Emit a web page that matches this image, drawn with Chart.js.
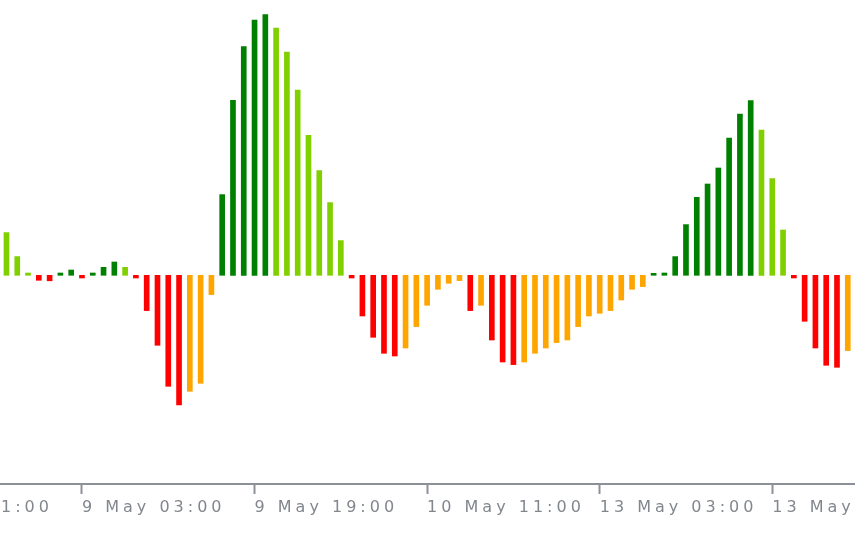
<!DOCTYPE html>
<html>
<head>
<meta charset="utf-8">
<script src="https://cdn.jsdelivr.net/npm/chart.js@4/dist/chart.umd.min.js"></script>
<style>
  html, body { margin: 0; padding: 0; background: #ffffff; }
  #wrap { width: 855px; height: 534px; }
</style>
</head>
<body>
<div id="wrap"><canvas id="aoChart" width="855" height="534"></canvas></div>
<script>
// oscillator values, one per hourly bar (in points)
const aoPoints = [
  42.7, 18.7, 2.3, -5.0, -5.5, 2.3, 5.3, -2.7, 2.3, 8.0,
  13.3, 8.0, -2.7, -35.3, -70.0, -111.0, -129.7, -116.0, -108.0, -19.3,
  80.7, 175.0, 228.7, 255.3, 260.7, 247.3, 223.3, 185.3, 140.0, 104.7,
  72.7, 34.7, -2.7, -40.7, -62.0, -78.0, -80.7, -72.7, -51.3, -30.0,
  -14.0, -8.0, -5.3, -35.3, -30.0, -64.7, -86.7, -89.3, -86.7, -78.0,
  -72.7, -67.3, -64.7, -51.3, -40.7, -38.0, -35.3, -24.7, -14.0, -11.3,
  2.0, 2.3, 18.7, 50.7, 78.0, 91.3, 107.3, 137.3, 161.3, 174.7,
  145.3, 96.7, 45.3, -2.7, -46.0, -72.7, -90.0, -92.0, -75.3
];

// time axis labels and the bar they sit on (16 bars apart)
const tickBars = [-9, 7, 23, 39, 55, 71];
const tickLabels = ["8 May 11:00", "9 May 03:00", "9 May 19:00", "10 May 11:00", "13 May 03:00", "13 May 19:00"];

const axisGray = "#8c9197";

function barColor(ctx) {
    const i = ctx.dataIndex;
    const v = aoPoints[i];
    const prev = i > 0 ? aoPoints[i - 1] : Infinity;
    const rising = v > prev;
    if (v >= 0) return rising ? "#008000" : "#80d000";
    return rising ? "#ffa500" : "#ff0000";
}

const spacedText = {
    id: "spacedText",
    beforeDraw(chart) {
        chart.ctx.letterSpacing = "4px";
    }
};

const ctx = document.getElementById("aoChart").getContext("2d");
new Chart(ctx, {
    type: "bar",
    data: {
        datasets: [{
            data: aoPoints.map((v, i) => ({ x: i, y: v })),
            backgroundColor: barColor,
            borderWidth: 0,
            barThickness: 5
        }]
    },
    options: {
        responsive: false,
        animation: false,
        layout: { padding: 0 },
        plugins: {
            legend: { display: false },
            tooltip: { enabled: false }
        },
        scales: {
            x: {
                type: "linear",
                bounds: "data",
                offset: false,
                min: -0.6,
                max: 78.67,
                afterBuildTicks: scale => {
                    scale.ticks = tickBars.map(b => ({ value: b }));
                },
                afterFit: scale => {
                    scale.height = 50;
                    scale.paddingLeft = 0;
                    scale.paddingRight = 0;
                },
                grid: {
                    offset: false,
                    drawOnChartArea: false,
                    drawTicks: true,
                    tickLength: 10,
                    tickWidth: 2,
                    tickColor: axisGray
                },
                border: { display: true, color: axisGray, width: 2 },
                ticks: {
                    autoSkip: false,
                    maxRotation: 0,
                    minRotation: 0,
                    align: "start",
                    padding: 4,
                    color: "#82878e",
                    font: { family: "DejaVu Sans", size: 16 },
                    callback: value => {
                        const k = tickBars.indexOf(value);
                        return k >= 0 ? tickLabels[k] : "";
                    }
                }
            },
            y: {
                display: false,
                bounds: "data",
                min: -208.7,
                max: 275.3
            }
        }
    },
    plugins: [spacedText]
});
</script>
</body>
</html>
